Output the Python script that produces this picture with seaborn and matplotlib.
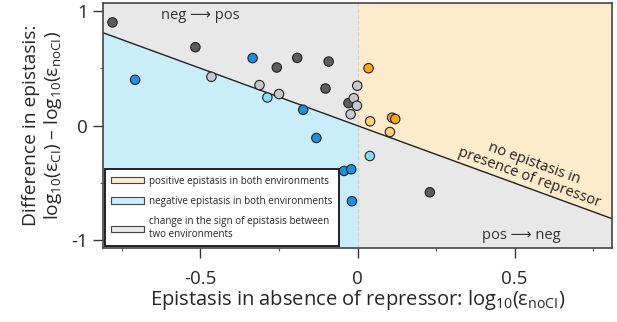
import pandas as pd
import matplotlib.pyplot as plt
import seaborn as sns
import numpy as np
from matplotlib.patches import Patch

# epistasis without repressor (x) and the difference (y), grouped by marker colour
eps_noCI = [-0.78, -0.516, -0.257, -0.192, -0.092, -0.102, -0.029, 0.23,
            -0.465, -0.312, -0.25, -0.001, -0.012, -0.002, -0.022,
            -0.708, -0.334, -0.173, -0.131, -0.043, -0.02, -0.018,
            -0.287, 0.039,
            0.035, 0.11, 0.12,
            0.04, 0.103]
diff_eps = [0.90, 0.684, 0.507, 0.591, 0.559, 0.324, 0.197, -0.58,
            0.426, 0.354, 0.276, 0.348, 0.24, 0.174, 0.10,
            0.40, 0.589, 0.139, -0.107, -0.394, -0.38, -0.658,
            0.246, -0.264,
            0.501, 0.07, 0.058,
            0.038, -0.055]
group = (["dark grey"] * 8 + ["light grey"] * 7 + ["blue"] * 7 + ["light blue"] * 2
         + ["orange"] * 3 + ["light orange"] * 2)

point_colors = {"dark grey": "#5c5c5c", "light grey": "#c8c8c8", "blue": "#1f90e0",
                "light blue": "#88dbf2", "orange": "#f4a81d", "light orange": "#f8d27c"}

legend_labels = ["positive epistasis in both environments",
                 "negative epistasis in both environments",
                 "change in the sign of epistasis between\ntwo environments"]
region_colors = ["#fdebcc", "#c9eef9", "#e8e8e8"]

xlim = (-0.81, 0.81)
ylim = (-1.065, 1.07)

df = pd.DataFrame({"x": eps_noCI, "y": diff_eps, "group": group})

sns.set_style("ticks")
plt.rcParams['font.family'] = ['Open Sans', 'DejaVu Sans']
plt.rcParams['mathtext.fontset'] = 'custom'
plt.rcParams['mathtext.rm'] = 'Open Sans'
plt.rcParams['mathtext.it'] = 'Open Sans:italic'

fig = plt.figure(figsize=(6.17, 3.22), dpi=100)
ax = fig.add_axes([0.167, 0.230, 0.825, 0.761])
ax.set_facecolor(region_colors[2])

# shaded regions split by the line y = -x and x = 0
xl = np.linspace(xlim[0], 0, 50)
ax.fill_between(xl, ylim[0], -xl, color=region_colors[1], lw=0, zorder=0)
xr = np.linspace(0, xlim[1], 50)
ax.fill_between(xr, -xr, ylim[1], color=region_colors[0], lw=0, zorder=0)
ax.axvline(0, color="#d0d0d0", lw=0.8, ls="--", zorder=1)
xx = np.array(xlim)
ax.plot(xx, -xx, color="#222222", lw=1.0, zorder=2)

sns.scatterplot(data=df, x="x", y="y", hue="group", palette=point_colors,
                s=46, edgecolor="#222222", linewidth=0.8, legend=False, ax=ax, zorder=3)

ax.set_xlim(*xlim)
ax.set_ylim(*ylim)
ax.set_xticks([-0.5, 0, 0.5])
ax.set_xticklabels(["-0.5", "0", "0.5"])
ax.set_yticks([-1, 0, 1])
ax.set_yticklabels(["-1", "0", "1"])
ax.set_xticks([-0.75, -0.25, 0.25, 0.75], minor=True)
ax.set_yticks([-0.5, 0.5], minor=True)
ax.tick_params(which="major", length=7, width=1, color="#333333", labelsize=13.5, pad=4)
ax.tick_params(axis="x", which="major", pad=9)
ax.tick_params(which="minor", length=2.5, width=0.8, color="#555555")
for sp in ax.spines.values():
    sp.set_color("#444444")
    sp.set_linewidth(1.2)

ax.set_xlabel(r"Epistasis in absence of repressor: log$_{10}$(ε$_{\mathrm{noCI}}$)", fontsize=14.5, labelpad=0)
ax.set_ylabel("Difference in epistasis:\n" + r"log$_{10}$(ε$_{\mathrm{CI}}$) – log$_{10}$(ε$_{\mathrm{noCI}}$)",
              fontsize=13.8, labelpad=5, linespacing=1.15)

ax.text(-0.5, 0.96, "neg ⟶ pos", ha="center", va="center", fontsize=10.5, color="#333333")
ax.text(0.52, -0.955, "pos ⟶ neg", ha="center", va="center", fontsize=10.5, color="#333333")
ax.text(0.555, -0.39, "no epistasis in\npresence of repressor", ha="center", va="center",
        rotation=-20, fontsize=10.5, color="#222222", linespacing=1.0, rotation_mode="anchor")

handles = [Patch(facecolor=c, edgecolor="#444444", linewidth=0.8) for c in region_colors]
leg = ax.legend(handles, legend_labels, loc="lower left", fontsize=7.1, frameon=True,
                fancybox=False, handlelength=3.4, handleheight=0.6, borderaxespad=0.15,
                labelspacing=0.95, borderpad=0.65, handletextpad=0.5)
leg.get_frame().set_edgecolor("#111111")
leg.get_frame().set_linewidth(1.3)
leg.get_frame().set_alpha(1)
leg.set_zorder(5)

fig.savefig("out.png", dpi=100)
